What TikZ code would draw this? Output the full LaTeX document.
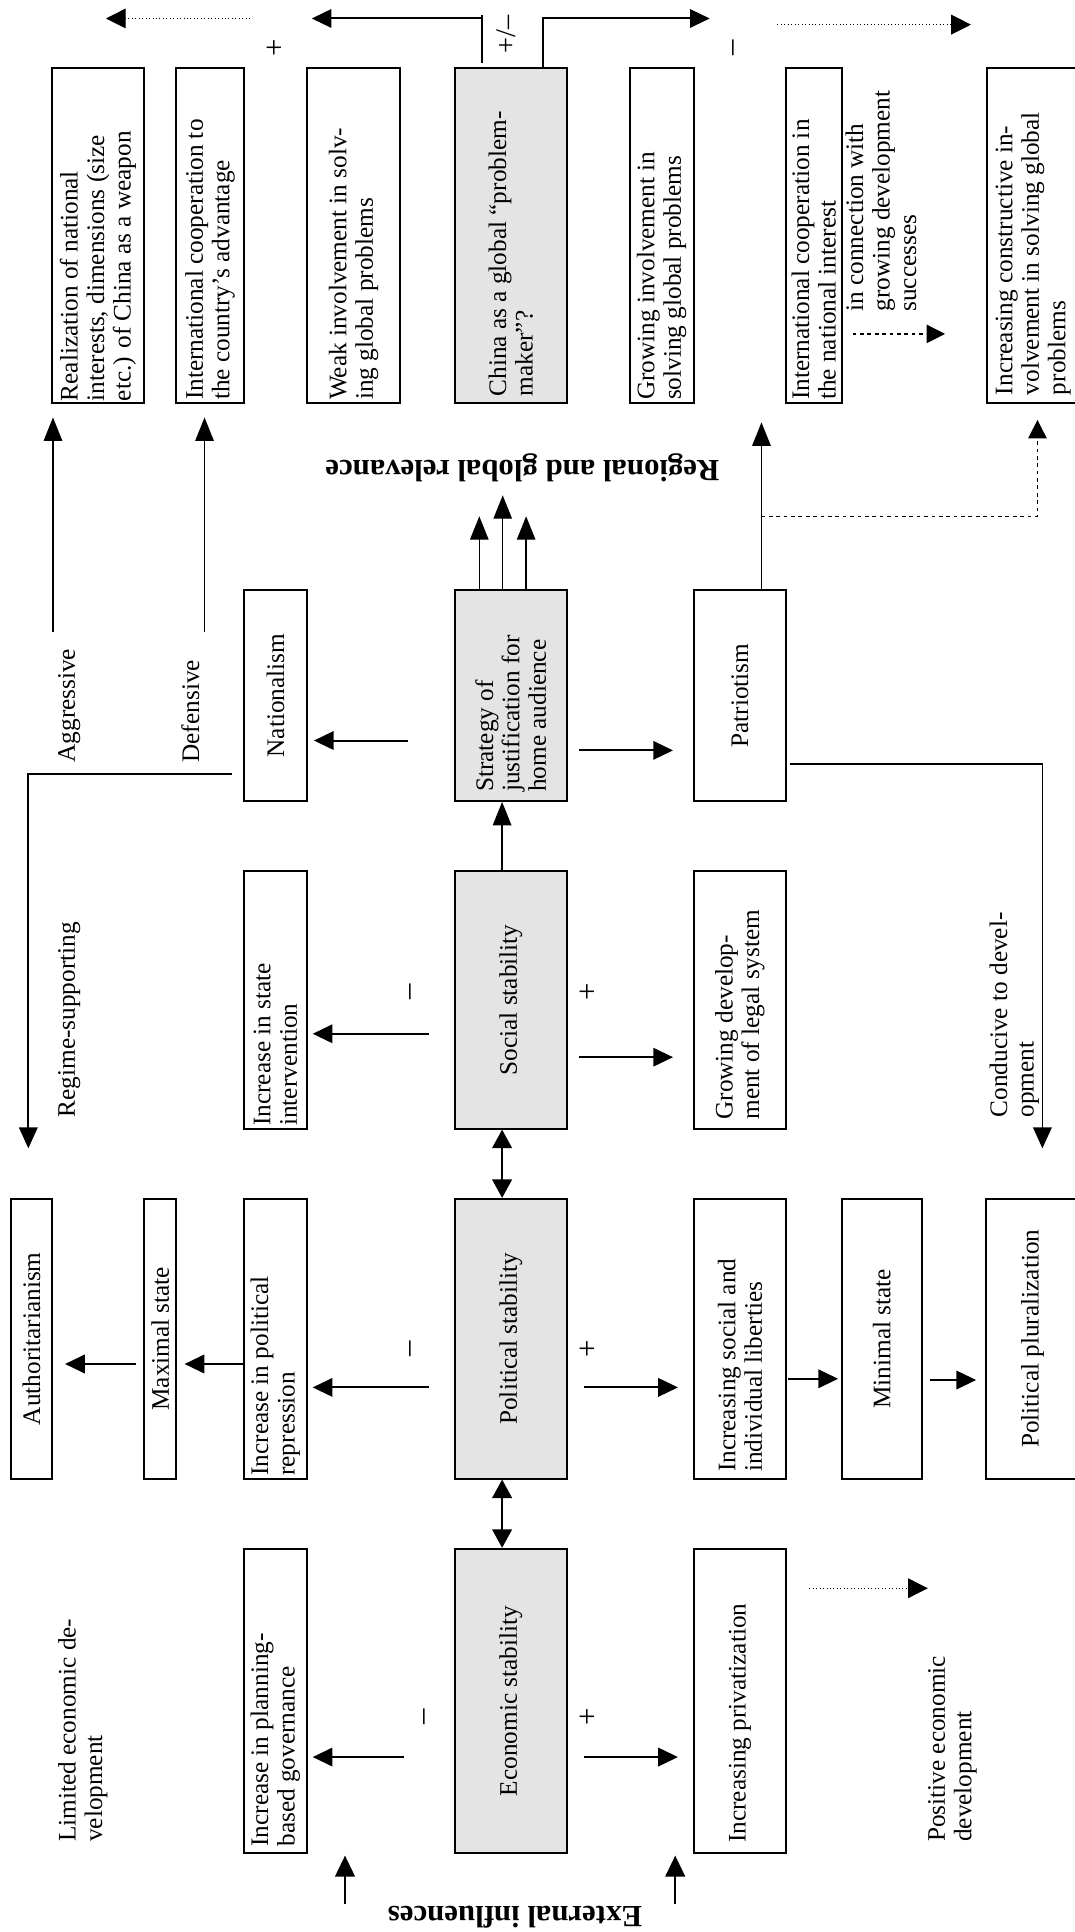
\documentclass[tikz,border=0pt]{standalone}
\usepackage{fontspec}
\setmainfont{Liberation Serif}
\usetikzlibrary{arrows.meta}
\definecolor{boxgray}{HTML}{E4E4E4}
\begin{document}
\begin{tikzpicture}[x=1pt,y=-1pt,
  every node/.style={font=\fontsize{20.5}{21.5}\selectfont},
  wbox/.style={draw, line width=1.6pt, fill=white, inner sep=0pt},
  gbox/.style={wbox, fill=boxgray},
  txt/.style={rotate=90, align=left, inner sep=0pt},
  nw/.style={txt, anchor=north west},
  bt/.style={txt, anchor=west},
  ctr/.style={txt, anchor=center},
  sign/.style={txt, font=\fontsize{25}{27}\selectfont},
  bigl/.style={font=\fontsize{25}{27}\selectfont\bfseries, rotate=180, inner sep=0pt},
  arr/.style={line width=1.6pt, -{Triangle[length=16pt,width=15pt]}},
  arrt/.style={line width=1.1pt, -{Triangle[length=19pt,width=15pt]}},
  arrext/.style={line width=1.5pt, -{Triangle[length=17pt,width=16pt]}},
  darr/.style={line width=1.5pt, {Triangle[length=15pt,width=16pt]}-{Triangle[length=15pt,width=16pt]}},
  dotarr/.style={line width=0.8pt, dotted, -{Triangle[length=16pt,width=16pt]}},
  dasharr/.style={line width=1pt, dashed, -{Triangle[length=15pt,width=15pt]}},
  longarr/.style={line width=1.4pt, -{Triangle[length=17pt,width=15pt]}},
]
\useasboundingbox (0,0) rectangle (872,1568);

% ---------- top row ----------
\node[wbox, minimum width=75pt, minimum height=271.5pt] (realize) at (79.5,191.25) {};
\node[wbox, minimum width=55pt, minimum height=271.5pt] (coopadv) at (170.5,191.25) {};
\node[wbox, minimum width=76pt, minimum height=271.5pt] (weak) at (287,191.25) {};
\node[gbox, minimum width=91pt, minimum height=271.5pt] (china) at (414.5,191.25) {};
\node[wbox, minimum width=52pt, minimum height=271.5pt] (growinv) at (537,191.25) {};
\node[wbox, minimum width=45pt, minimum height=271.5pt] (coopnat) at (660.5,191.25) {};
\node[wbox, minimum width=75pt, minimum height=271.5pt] (constr) at (838.5,191.25) {};

\node[bt] (realize-t) at ([yshift=2pt]realize.south) {Realization of national\\interests, dimensions (size\\etc.) of China as a weapon};
\node[bt] (coopadv-t) at ([yshift=3pt]coopadv.south) {International cooperation to\\the country’s advantage};
\node[bt] (weak-t) at ([yshift=3pt]weak.south) {Weak involvement in solv-\\ing global problems};
\node[bt] (china-t) at ([yshift=6pt]china.south) {China as a global ``problem-\\maker''?};
\node[bt] (growinv-t) at ([yshift=3pt]growinv.south) {Growing involvement in\\solving global problems};
\node[bt] (coopnat-t) at ([yshift=3pt]coopnat.south) {International cooperation in\\the national interest};
\node[bt] (constr-t) at ([yshift=7pt]constr.south) {Increasing constructive in-\\volvement in solving global\\problems};
\node[nw] (conn-t) at (686,253) {in connection with\\growing development\\successes};

% ---------- second row ----------
\node[wbox, minimum width=51pt, minimum height=171pt] (nation) at (223.5,564.5) {};
\node[gbox, minimum width=91pt, minimum height=171pt] (strategy) at (414.5,564.5) {};
\node[wbox, minimum width=75pt, minimum height=171pt] (patriot) at (600.5,564.5) {};
\node[ctr] (nation-t) at (nation.center) {Nationalism};
\node[bt] (strategy-t) at ([yshift=8pt]strategy.south) {Strategy of\\justification for\\home audience};
\node[ctr] (patriot-t) at (patriot.center) {Patriotism};

% ---------- third row ----------
\node[wbox, minimum width=51pt, minimum height=209pt] (stateint) at (223.5,811.5) {};
\node[gbox, minimum width=91pt, minimum height=209pt] (social) at (414.5,811.5) {};
\node[wbox, minimum width=75pt, minimum height=209pt] (legal) at (600.5,811.5) {};
\node[bt] (stateint-t) at ([yshift=3pt]stateint.south) {Increase in state\\intervention};
\node[ctr] (social-t) at (social.center) {Social stability};
\node[bt] (legal-t) at ([yshift=8pt]legal.south) {Growing develop-\\ment of legal system};

% ---------- fourth row ----------
\node[wbox, minimum width=33pt, minimum height=227pt] (author) at (25.5,1086.5) {};
\node[wbox, minimum width=26pt, minimum height=227pt] (maximal) at (130,1086.5) {};
\node[wbox, minimum width=51pt, minimum height=227pt] (repress) at (223.5,1086.5) {};
\node[gbox, minimum width=91pt, minimum height=227pt] (political) at (414.5,1086.5) {};
\node[wbox, minimum width=75pt, minimum height=227pt] (liberties) at (600.5,1086.5) {};
\node[wbox, minimum width=65pt, minimum height=227pt] (minimal) at (715.5,1086.5) {};
\node[wbox, minimum width=76pt, minimum height=227pt] (plural) at (838,1086.5) {};
\node[ctr] (author-t) at (author.center) {Authoritarianism};
\node[ctr] (maximal-t) at (maximal.center) {Maximal state};
\node[bt] (repress-t) at ([yshift=3pt]repress.south) {Increase in political\\repression};
\node[ctr] (political-t) at (political.center) {Political stability};
\node[bt] (liberties-t) at ([yshift=6pt]liberties.south) {Increasing social and\\individual liberties};
\node[ctr] (minimal-t) at (minimal.center) {Minimal state};
\node[ctr] (plural-t) at (plural.center) {Political pluralization};

% ---------- fifth row ----------
\node[wbox, minimum width=51pt, minimum height=247pt] (planning) at (223.5,1380.5) {};
\node[gbox, minimum width=91pt, minimum height=247pt] (economic) at (414.5,1380.5) {};
\node[wbox, minimum width=75pt, minimum height=247pt] (privat) at (600.5,1380.5) {};
\node[bt] (planning-t) at ([yshift=6pt]planning.south) {Increase in planning-\\based governance};
\node[ctr] (economic-t) at (economic.center) {Economic stability};
\node[bt] (privat-t) at ([yshift=9pt]privat.south) {Increasing privatization};

% ---------- free texts ----------
\node[nw] (limited) at (47,1495) {Limited economic de-\\velopment};
\node[nw] (positive) at (753,1495) {Positive economic\\development};
\node[nw] (aggressive) at (47,619) {Aggressive};
\node[nw] (defensive) at (147,619) {Defensive};
\node[nw] (regime) at (47,907) {Regime-supporting};
\node[nw] (conducive) at (803,907) {Conducive to devel-\\opment};
\node[bigl] (regional) at (424,380) {Regional and global relevance};
\node[bigl] (external) at (418,1556) {External influences};

% signs
\node[sign] (s1) at (224,39) {+};
\node[txt, font=\fontsize{23}{25}\selectfont] (s2) at (411,28) {+/–};
\node[sign] (s3) at (598,39) {–};
\node[sign] (s4) at (336,805) {–};
\node[sign] (s5) at (478,805) {+};
\node[sign] (s6) at (336,1095) {–};
\node[sign] (s7) at (478,1095) {+};
\node[sign] (s8) at (347,1393) {–};
\node[sign] (s9) at (478,1393) {+};

% ---------- connectors ----------
% centre column
\draw[darr] ([xshift=-7pt]economic.north) -- ([xshift=-7pt]political.south);
\draw[darr] ([xshift=-7pt]political.north) -- ([xshift=-7pt]social.south);
\draw[arrt] ([xshift=-7pt]social.north) -- ([xshift=-7pt]strategy.south);
\coordinate (rel1) at (389,419);
\coordinate (rel2) at (408,402);
\coordinate (rel3) at (427,419);
\draw[arrt] (strategy.north -| rel1) -- (rel1);
\draw[arrt] (strategy.north -| rel2) -- (rel2);
\draw[arrt] (strategy.north -| rel3) -- (rel3);

% horizontal arrows
\draw[arr] ([shift={(-37,36.5)}]strategy.west) -- ([shift={(5,36.5)}]nation.east);
\draw[arr] ([shift={(9,44.5)}]strategy.east) -- ([shift={(-16,44.5)}]patriot.west);
\draw[arr] ([shift={(-20,27.5)}]social.west) -- ([shift={(4,27.5)}]stateint.east);
\draw[arr] ([shift={(9,46.5)}]social.east) -- ([shift={(-16,46.5)}]legal.west);
\draw[arr] ([shift={(-20,39.5)}]political.west) -- ([shift={(4,39.5)}]repress.east);
\draw[arr] ([shift={(13,39.5)}]political.east) -- ([shift={(-12,39.5)}]liberties.west);
\draw[arr] ([shift={(0,20.5)}]repress.west) -- ([shift={(6,20.5)}]maximal.east);
\draw[arr] ([shift={(-6,20.5)}]maximal.west) -- ([shift={(10,20.5)}]author.east);
\draw[arr] ([shift={(1,32.5)}]liberties.east) -- ([shift={(-2,32.5)}]minimal.west);
\draw[arr] ([shift={(6,33.5)}]minimal.east) -- ([shift={(-7,33.5)}]plural.west);
\draw[arr] ([shift={(-40,45.5)}]economic.west) -- ([shift={(4,45.5)}]planning.east);
\draw[arr] ([shift={(13,45.5)}]economic.east) -- ([shift={(-12,45.5)}]privat.west);
\coordinate (privend) at (753,1289);
\draw[dotarr] ([shift={(18,-91.5)}]privat.east) -- (privend);

% external influences
\coordinate (ex1) at (280,1545);
\coordinate (ex1t) at (280,1506);
\coordinate (ex2) at (548,1545);
\coordinate (ex2t) at (548,1506);
\draw[arrext] (ex1) -- (ex1t);
\draw[arrext] (ex2) -- (ex2t);

% to the top row
\draw[arrt] ([xshift=17.5pt]patriot.north) -- ([xshift=-42.5pt,yshift=-15pt]coopnat.south);
\coordinate (dj) at (618,419);
\draw[dasharr] (dj) -| ([xshift=3.5pt,yshift=-13pt]constr.south);
\coordinate (agg) at (43,513);
\draw[arrt] (agg) -- ([xshift=-36.5pt,yshift=-11pt]realize.south);
\coordinate (def) at (166,513);
\draw[arrt] (def) -- ([xshift=-4.5pt,yshift=-11pt]coopadv.south);
\coordinate (cn1) at (692,271);
\coordinate (cn2) at (767,271);
\draw[dasharr] (cn1) -- (cn2);

% regime / conducive
\coordinate (regtip) at (23,932);
\draw[longarr] ([shift={(-9,63.5)}]nation.west) -| (regtip);
\coordinate (contip) at (846,932);
\draw[longarr] ([shift={(2,55.5)}]patriot.east) -| (contip);

% top arrows
\coordinate (tl) at (391,12);
\coordinate (tlc) at (391,15);
\coordinate (tlend) at (253,15);
\draw[line width=1.6pt] ([shift={(-23.5,-3.5)}]china.north) -- (tl);
\draw[arr] (tlc) -- (tlend);
\coordinate (trend) at (576,15);
\draw[arr] ([xshift=26.5pt]china.north) |- (trend);
\coordinate (dl1) at (203,15);
\coordinate (dl2) at (86,15);
\draw[dotarr] (dl1) -- (dl2);
\coordinate (dr1) at (631,20);
\coordinate (dr2) at (788,20);
\draw[dotarr] (dr1) -- (dr2);
\end{tikzpicture}
\end{document}
